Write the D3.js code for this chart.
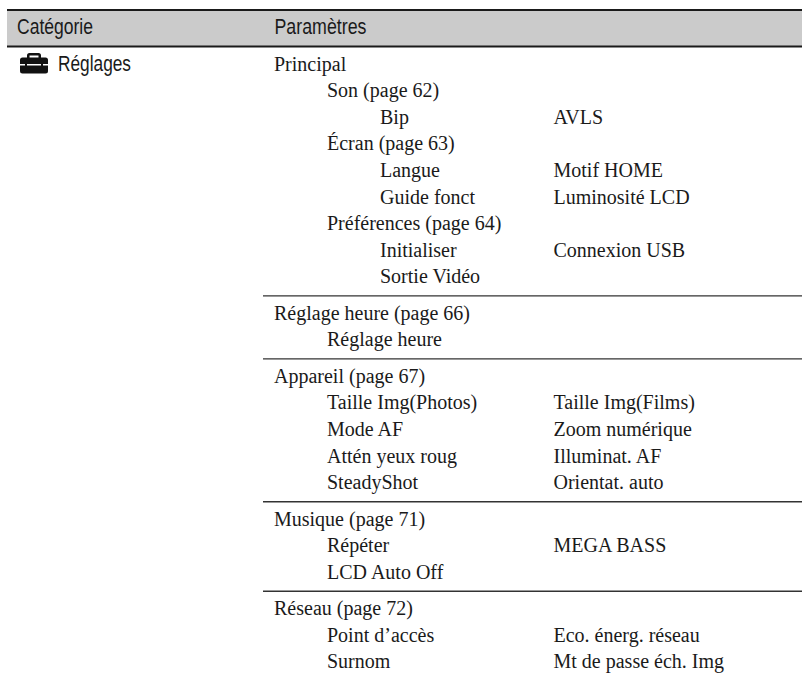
<!DOCTYPE html>
<html><head><meta charset="utf-8">
<script src="https://cdnjs.cloudflare.com/ajax/libs/d3/7.8.5/d3.min.js"></script>
<style>html,body{margin:0;padding:0;background:#fff}svg{display:block}
.s{font-family:"Liberation Serif",serif;font-size:20px;fill:#1a1a1a}
.h{font-family:"Liberation Sans",sans-serif;font-size:22px;fill:#1a1a1a}</style>
</head><body><div id="c"></div>
<script>
const headers=["Catégorie","Paramètres"];
const category="Réglages";
const section1=[[0,"Principal",""],[1,"Son (page 62)",""],[2,"Bip","AVLS"],[1,"Écran (page 63)",""],[2,"Langue","Motif HOME"],[2,"Guide fonct","Luminosité LCD"],[1,"Préférences (page 64)",""],[2,"Initialiser","Connexion USB"],[2,"Sortie Vidéo",""]];
const section2=[[0,"Réglage heure (page 66)",""],[1,"Réglage heure",""]];
const section3=[[0,"Appareil (page 67)",""],[1,"Taille Img(Photos)","Taille Img(Films)"],[1,"Mode AF","Zoom numérique"],[1,"Attén yeux roug","Illuminat. AF"],[1,"SteadyShot","Orientat. auto"]];
const section4=[[0,"Musique (page 71)",""],[1,"Répéter","MEGA BASS"],[1,"LCD Auto Off",""]];
const section5=[[0,"Réseau (page 72)",""],[1,"Point d’accès","Eco. énerg. réseau"],[1,"Surnom","Mt de passe éch. Img"]];
const sections=[section1,section2,section3,section4,section5];

const W=802,H=677;
const svg=d3.select("#c").append("svg").attr("width",W).attr("height",H);
const indent=d3.scaleOrdinal().domain([0,1,2]).range([274,327,380]);
const rowH=26.6,gap=9.8,firstY=70.6,right=802;
svg.append("rect").attr("x",7).attr("y",10).attr("width",right-7).attr("height",36.5).attr("fill","#cbcbcb");
[10,46.5].forEach(y=>svg.append("line").attr("x1",7).attr("x2",right).attr("y1",y).attr("y2",y).attr("stroke","#1a1a1a").attr("stroke-width",1.8));
const hx=[17,274.5],hw=[76,92];
svg.selectAll("text.h").data(headers).join("text").attr("class","h").attr("x",(d,i)=>hx[i]).attr("y",34)
  .attr("textLength",(d,i)=>hw[i]).attr("lengthAdjust","spacingAndGlyphs").text(d=>d);
svg.append("text").attr("class","h").attr("x",58).attr("y",71).attr("textLength",73).attr("lengthAdjust","spacingAndGlyphs").text(category);
// toolbox icon
const icon=svg.append("g").attr("transform","translate(20,52.5)").attr("fill","#111");
icon.append("path").attr("fill-rule","evenodd").attr("d","M7 5 V3 Q7 0.500 9.500 0.500 H18.500 Q21 0.500 21 3 V5 H25.500 Q28 5 28 7.500 V11.500 H0 V7.500 Q0 5 2.500 5 Z M9.500 5 H18.500 V3 H9.500 Z");
icon.append("path").attr("d","M0 13 H28 V18.500 Q28 21 25.500 21 H2.500 Q0 21 0 18.500 Z");
icon.append("rect").attr("x",5).attr("y",10.5).attr("width",2).attr("height",3.5);
icon.append("rect").attr("x",21).attr("y",10.5).attr("width",2).attr("height",3.5);
// rows
let y=firstY;
sections.forEach((sec,si)=>{
  if(si>0){
    const ly=y-rowH+12.5;
    svg.append("line").attr("x1",263).attr("x2",right).attr("y1",ly).attr("y2",ly).attr("stroke","#333").attr("stroke-width",1.4);
    y+=gap;
  }
  sec.forEach(r=>{
    svg.append("text").attr("class","s").attr("x",indent(r[0])).attr("y",y).text(r[1]);
    if(r[2]) svg.append("text").attr("class","s").attr("x",553.5).attr("y",y).text(r[2]);
    y+=rowH;
  });
});
</script></body></html>
